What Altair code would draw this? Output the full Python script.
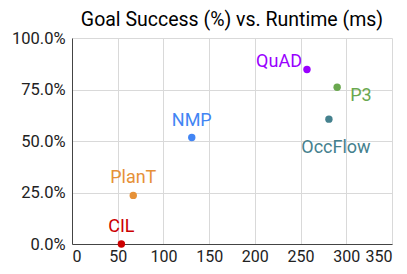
import altair as alt
import pandas as pd

names = ["CIL", "PlanT", "NMP", "QuAD", "P3", "OccFlow"]
runtime_ms = [54, 67, 131, 257, 290, 281]
goal_success = [0.0, 0.236, 0.517, 0.847, 0.761, 0.606]
colors = ["#cc0000", "#e69138", "#4285f4", "#9900ff", "#6aa84f", "#45818e"]

# label placement (style only): align, dx, dy
label_style = {
    "CIL": ("center", 0, -12),
    "PlanT": ("center", 0, -12),
    "NMP": ("center", 0, -11),
    "QuAD": ("right", -5, -3),
    "P3": ("left", 13, 14),
    "OccFlow": ("center", 7, 34),
}

df = pd.DataFrame({"name": names, "runtime": runtime_ms, "success": goal_success})

color_scale = alt.Scale(domain=names, range=colors)
x = alt.X("runtime:Q", scale=alt.Scale(domain=[0, 350], nice=False),
          axis=alt.Axis(values=[0, 50, 100, 150, 200, 250, 300, 350], title=None,
                        labelFontSize=16, labelPadding=4))
y = alt.Y("success:Q", scale=alt.Scale(domain=[0, 1], nice=False),
          axis=alt.Axis(values=[0, 0.25, 0.5, 0.75, 1.0], format=".1%", title=None,
                        labelFontSize=16.5, labelPadding=7))

base = alt.Chart(df)
points = base.mark_circle(size=55, opacity=1).encode(
    x=x, y=y, color=alt.Color("name:N", scale=color_scale, legend=None)
)

layers = [points]
for n in names:
    align, dx, dy = label_style[n]
    layers.append(
        base.transform_filter(alt.datum.name == n).mark_text(
            align=align, dx=dx, dy=dy, baseline="alphabetic", fontSize=18, font="Roboto"
        ).encode(x="runtime:Q", y="success:Q", text="name:N",
                 color=alt.Color("name:N", scale=color_scale, legend=None))
    )

chart = alt.layer(*layers).properties(
    width=320, height=206,
    title=alt.Title("Goal Success (%) vs. Runtime (ms)", fontSize=19.5, font="Roboto",
                    fontWeight="normal", color="#000", offset=0),
    autosize=alt.AutoSizeParams(type="none"),
    padding={"left": 64, "top": 30, "right": 7, "bottom": 22},
).configure_view(stroke=None).configure_axis(
    labelFont="Roboto", labelColor="#222", gridColor="#d9d9d9",
    domainColor="#444", ticks=False,
).configure_axisX(grid=True).configure_axisY(grid=True)

chart.save("out.html", embed_options={"renderer": "svg", "actions": False})
